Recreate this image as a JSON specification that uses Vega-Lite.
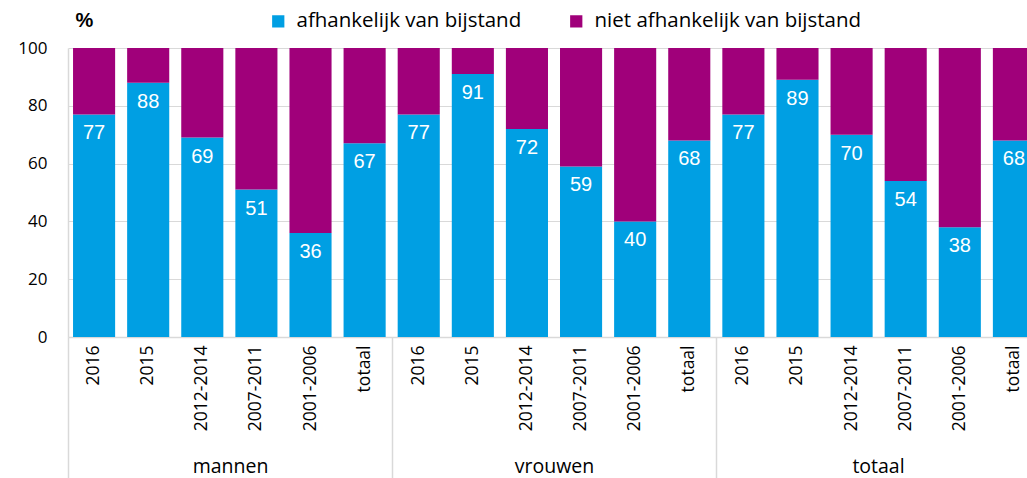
{
  "$schema": "https://vega.github.io/schema/vega-lite/v6.json",
  "autosize": {"type": "none"},
  "width": 972,
  "height": 289,
  "padding": {"left": 68, "top": 48, "right": -13, "bottom": 141},
  "config": {"view": {"stroke": null}, "font": "Open Sans"},
  "data": {"values": [
    {"key": "mannen|2016", "group": "mannen", "cat": "afhankelijk van bijstand", "s": 1, "value": 77},
    {"key": "mannen|2016", "group": "mannen", "cat": "niet afhankelijk van bijstand", "s": 2, "value": 23},
    {"key": "mannen|2015", "group": "mannen", "cat": "afhankelijk van bijstand", "s": 1, "value": 88},
    {"key": "mannen|2015", "group": "mannen", "cat": "niet afhankelijk van bijstand", "s": 2, "value": 12},
    {"key": "mannen|2012-2014", "group": "mannen", "cat": "afhankelijk van bijstand", "s": 1, "value": 69},
    {"key": "mannen|2012-2014", "group": "mannen", "cat": "niet afhankelijk van bijstand", "s": 2, "value": 31},
    {"key": "mannen|2007-2011", "group": "mannen", "cat": "afhankelijk van bijstand", "s": 1, "value": 51},
    {"key": "mannen|2007-2011", "group": "mannen", "cat": "niet afhankelijk van bijstand", "s": 2, "value": 49},
    {"key": "mannen|2001-2006", "group": "mannen", "cat": "afhankelijk van bijstand", "s": 1, "value": 36},
    {"key": "mannen|2001-2006", "group": "mannen", "cat": "niet afhankelijk van bijstand", "s": 2, "value": 64},
    {"key": "mannen|totaal", "group": "mannen", "cat": "afhankelijk van bijstand", "s": 1, "value": 67},
    {"key": "mannen|totaal", "group": "mannen", "cat": "niet afhankelijk van bijstand", "s": 2, "value": 33},
    {"key": "vrouwen|2016", "group": "vrouwen", "cat": "afhankelijk van bijstand", "s": 1, "value": 77},
    {"key": "vrouwen|2016", "group": "vrouwen", "cat": "niet afhankelijk van bijstand", "s": 2, "value": 23},
    {"key": "vrouwen|2015", "group": "vrouwen", "cat": "afhankelijk van bijstand", "s": 1, "value": 91},
    {"key": "vrouwen|2015", "group": "vrouwen", "cat": "niet afhankelijk van bijstand", "s": 2, "value": 9},
    {"key": "vrouwen|2012-2014", "group": "vrouwen", "cat": "afhankelijk van bijstand", "s": 1, "value": 72},
    {"key": "vrouwen|2012-2014", "group": "vrouwen", "cat": "niet afhankelijk van bijstand", "s": 2, "value": 28},
    {"key": "vrouwen|2007-2011", "group": "vrouwen", "cat": "afhankelijk van bijstand", "s": 1, "value": 59},
    {"key": "vrouwen|2007-2011", "group": "vrouwen", "cat": "niet afhankelijk van bijstand", "s": 2, "value": 41},
    {"key": "vrouwen|2001-2006", "group": "vrouwen", "cat": "afhankelijk van bijstand", "s": 1, "value": 40},
    {"key": "vrouwen|2001-2006", "group": "vrouwen", "cat": "niet afhankelijk van bijstand", "s": 2, "value": 60},
    {"key": "vrouwen|totaal", "group": "vrouwen", "cat": "afhankelijk van bijstand", "s": 1, "value": 68},
    {"key": "vrouwen|totaal", "group": "vrouwen", "cat": "niet afhankelijk van bijstand", "s": 2, "value": 32},
    {"key": "totaal|2016", "group": "totaal", "cat": "afhankelijk van bijstand", "s": 1, "value": 77},
    {"key": "totaal|2016", "group": "totaal", "cat": "niet afhankelijk van bijstand", "s": 2, "value": 23},
    {"key": "totaal|2015", "group": "totaal", "cat": "afhankelijk van bijstand", "s": 1, "value": 89},
    {"key": "totaal|2015", "group": "totaal", "cat": "niet afhankelijk van bijstand", "s": 2, "value": 11},
    {"key": "totaal|2012-2014", "group": "totaal", "cat": "afhankelijk van bijstand", "s": 1, "value": 70},
    {"key": "totaal|2012-2014", "group": "totaal", "cat": "niet afhankelijk van bijstand", "s": 2, "value": 30},
    {"key": "totaal|2007-2011", "group": "totaal", "cat": "afhankelijk van bijstand", "s": 1, "value": 54},
    {"key": "totaal|2007-2011", "group": "totaal", "cat": "niet afhankelijk van bijstand", "s": 2, "value": 46},
    {"key": "totaal|2001-2006", "group": "totaal", "cat": "afhankelijk van bijstand", "s": 1, "value": 38},
    {"key": "totaal|2001-2006", "group": "totaal", "cat": "niet afhankelijk van bijstand", "s": 2, "value": 62},
    {"key": "totaal|totaal", "group": "totaal", "cat": "afhankelijk van bijstand", "s": 1, "value": 68},
    {"key": "totaal|totaal", "group": "totaal", "cat": "niet afhankelijk van bijstand", "s": 2, "value": 32}
  ]},
  "layer": [
    {
      "encoding": {
        "x": {"field": "key", "type": "nominal", "sort": null,
          "scale": {"type": "band", "paddingInner": 0.222, "paddingOuter": 0.093},
          "axis": {"title": null, "labelExpr": "split(datum.label, '|')[1]", "labelAngle": 270, "labelAlign": "right", "labelBaseline": "middle", "labelFontSize": 17.5, "labelColor": "#000000", "labelPadding": 8, "ticks": false, "domainColor": "#d9d9d9", "domainWidth": 1.5, "grid": false}}
      },
      "layer": [
        {
          "mark": {"type": "bar"},
          "encoding": {
            "y": {"field": "value", "type": "quantitative", "stack": "zero",
              "scale": {"domain": [0, 100], "nice": false},
              "axis": {"values": [0, 20, 40, 60, 80, 100], "title": "%", "titleAngle": 0, "titleX": 16, "titleY": -28, "titleAlign": "center", "titleBaseline": "middle", "titleFontSize": 20, "titleFontWeight": "bold", "titleFont": "Liberation Sans", "titleColor": "#000000", "labelFontSize": 17, "labelColor": "#000000", "labelPadding": 21, "ticks": false, "domainColor": "#d9d9d9", "domainWidth": 1.5, "gridColor": "#d9d9d9", "gridWidth": 1.2}},
            "color": {"field": "cat", "type": "nominal",
              "scale": {"domain": ["afhankelijk van bijstand", "niet afhankelijk van bijstand"], "range": ["#009FE3", "#A0007A"]},
              "legend": {"title": null, "orient": "none", "direction": "horizontal", "legendX": 200, "legendY": -37, "symbolType": "square", "symbolSize": 150, "symbolStrokeWidth": 0, "symbolOpacity": 1, "labelFontSize": 20.5, "labelColor": "#000000", "labelOffset": 8, "labelLimit": 0, "columnPadding": 44}},
            "order": {"field": "s", "type": "quantitative"}
          }
        },
        {
          "transform": [{"filter": "datum.s == 1"}],
          "mark": {"type": "text", "dy": 19, "baseline": "middle", "align": "center", "color": "#ffffff", "fontSize": 20, "font": "Liberation Sans"},
          "encoding": {
            "y": {"field": "value", "type": "quantitative"},
            "text": {"field": "value", "type": "quantitative"}
          }
        }
      ]
    },
    {
      "transform": [{"filter": "datum.s == 1"}],
      "mark": {"type": "text", "text": "", "opacity": 0},
      "encoding": {
        "x": {"field": "group", "type": "nominal", "sort": ["mannen", "vrouwen", "totaal"],
          "scale": {"type": "band", "paddingInner": 0, "paddingOuter": 0},
          "axis": {"orient": "bottom", "title": null, "domain": false, "ticks": true, "tickBand": "extent", "tickSize": 141, "tickColor": "#d9d9d9", "tickWidth": 1.5, "labelAngle": 0, "labelFontSize": 19.5, "labelColor": "#000000", "labelBaseline": "middle", "labelPadding": -12, "grid": false}}
      }
    }
  ],
  "resolve": {"scale": {"x": "independent"}, "axis": {"x": "independent"}}
}
